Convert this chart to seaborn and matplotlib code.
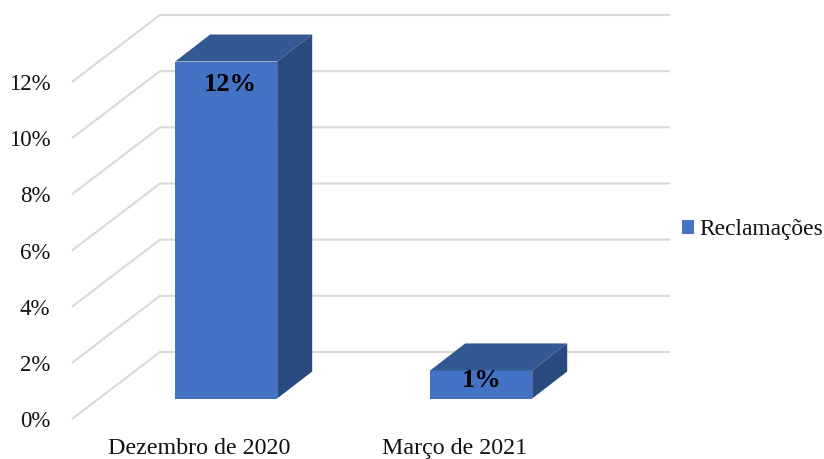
import matplotlib
matplotlib.use("Agg")
import matplotlib.pyplot as plt
from matplotlib.patches import Polygon, Patch
import pandas as pd
import seaborn as sns

categories = ["Dezembro de 2020", "Março de 2021"]
values = [12, 1]
bar_labels = ["12%", "1%"]
series_name = "Reclamações"
y_ticks = [0, 2, 4, 6, 8, 10, 12]

FRONT, TOP, SIDE = "#4472C4", "#345894", "#2A4A7F"
GRID = "#D9D9D9"
INK = "#111111"
W, H = 824, 459

sns.set_theme(style="white")
plt.rcParams["font.family"] = ["Liberation Serif", "DejaVu Serif"]

fig = plt.figure(figsize=(W / 100, H / 100), dpi=100)


def axes_px(left, right, top, bottom):
    return fig.add_axes([left / W, 1 - bottom / H, (right - left) / W, (bottom - top) / H])


PX_X = 255.0
PX_Y = 28.08
# front plane of the chart floor/wall frame
frame = axes_px(72, 582, 82, 419)
frame.set_xlim(-0.5, 1.5)
frame.set_ylim(0, 12)
# bars stand inside the depth of the frame
bars = axes_px(98.7, 608.7, 61.5, 398.5)
bars.set_xlim(-0.5, 1.5)
bars.set_ylim(0, 12)
bars.patch.set_alpha(0)

wall_dx, wall_dy = 88 / PX_X, 67 / PX_Y
for v in y_ticks:
    frame.plot([-0.5, -0.5 + wall_dx, 1.5 + wall_dx], [v, v + wall_dy, v + wall_dy],
               color=GRID, lw=1.5, clip_on=False, solid_joinstyle="miter", solid_capstyle="butt", zorder=1)

frame.set_xticks(range(len(categories)))
frame.set_xticklabels(categories, fontsize=17.3, color=INK)
frame.set_yticks(y_ticks)
frame.set_yticklabels([f"{v}%" for v in y_ticks], fontsize=16.5, color=INK)
frame.tick_params(axis="both", length=0)
frame.tick_params(axis="x", pad=14)
frame.tick_params(axis="y", pad=15.5)
frame.set_xlabel("")
frame.set_ylabel("")
sns.despine(ax=frame, left=True, bottom=True)

df = pd.DataFrame({"cat": categories, "val": values})
sns.barplot(data=df, x="cat", y="val", ax=bars, color=FRONT, saturation=1, width=0.4, zorder=3, linewidth=0)
bars.set_xlim(-0.5, 1.5)
bars.set_ylim(0, 12)
bars.axis("off")

bar_dx, bar_dy = 35 / PX_X, 27 / PX_Y
for rect in list(bars.patches):
    x0, x1 = rect.get_x(), rect.get_x() + rect.get_width()
    h = rect.get_height()
    rect.set_clip_on(False)
    rect.set_edgecolor("none")
    bars.add_patch(Polygon([(x0, h), (x1, h), (x1 + bar_dx, h + bar_dy), (x0 + bar_dx, h + bar_dy)],
                           closed=True, fc=TOP, ec="none", clip_on=False, zorder=3))
    bars.add_patch(Polygon([(x1, 0), (x1 + bar_dx, bar_dy), (x1 + bar_dx, h + bar_dy), (x1, h)],
                           closed=True, fc=SIDE, ec="none", clip_on=False, zorder=3))

label_offsets = [(4, -23), (1, -10)]
for i, (val, text, off) in enumerate(zip(values, bar_labels, label_offsets)):
    bars.annotate(text, (i, val), xytext=off, textcoords="offset pixels", ha="center", va="center",
                  fontsize=19, fontweight="bold", color="black", zorder=5, annotation_clip=False)

handle = Patch(facecolor=FRONT, edgecolor="none", label=series_name)
fig.legend(handles=[handle], loc="center left", bbox_to_anchor=(682 / W, 1 - 230 / H), frameon=False,
           fontsize=16.9, handlelength=0.52, handleheight=0.52, handletextpad=0.22, labelcolor=INK,
           borderpad=0, borderaxespad=0)

fig.savefig("out.png", dpi=100, facecolor="white")
